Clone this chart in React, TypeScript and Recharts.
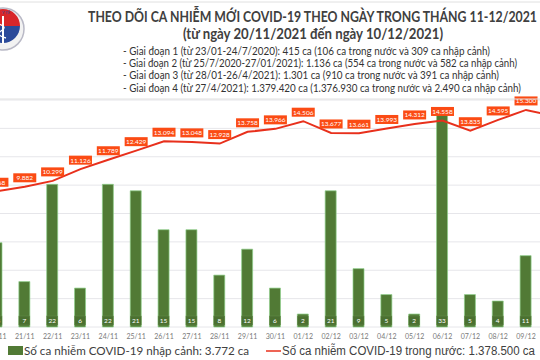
import { ComposedChart, Bar, Line, XAxis, YAxis, CartesianGrid, LabelList } from 'recharts';

const days = [
  '20/11', '21/11', '22/11', '23/11', '24/11', '25/11', '26/11', '27/11', '28/11', '29/11', '30/11',
  '01/12', '02/12', '03/12', '04/12', '05/12', '06/12', '07/12', '08/12', '09/12', '10/12',
];
const importedCases = [13, 7, 22, 6, 22, 21, 15, 15, 8, 12, 6, 2, 21, 9, 5, 2, 33, 5, 4, 11, 10];
const domesticCases = [
  9568, 9882, 10299, 11126, 11789, 12429, 13094, 13048, 12928, 13758, 13966,
  14506, 13677, 13661, 13993, 14312, 14558, 13835, 14595, 15300, 14856,
];
const lineTicks = [0, 2000, 4000, 6000, 8000, 10000, 12000, 14000, 16000];

const phases = [
  '- Giai đoạn 1 (từ 23/01-24/7/2020): 415 ca (106 ca trong nước và 309 ca nhập cảnh)',
  '- Giai đoạn 2 (từ 25/7/2020-27/01/2021): 1.136 ca (554 ca trong nước và 582 ca nhập cảnh)',
  '- Giai đoạn 3 (từ 28/01-26/4/2021): 1.301 ca (910 ca trong nước và 391 ca nhập cảnh)',
  '- Giai đoạn 4 (từ 27/4/2021): 1.379.420 ca (1.376.930 ca trong nước và 2.490 ca nhập cảnh)',
];
const phaseEnds = [490, 517, 499, 521];

const data = days.map((d, i) => ({ day: d, imported: importedCases[i], domestic: domesticCases[i] }));

const fmt = (v: number) => String(v).replace(/\B(?=(\d{3})+(?!\d))/g, '.');

const GREEN = '#517a35';
const RED = '#e8301c';
const LABEL_BG = '#fb4b14';

const DomesticLabel = (props: any) => {
  const { x, y, value } = props;
  return (
    <g>
      <rect x={x - 11.5} y={y - 13.5} width={23} height={9} fill={LABEL_BG} />
      <text x={x} y={y - 6.5} textAnchor="middle" fontSize={6.5} fill="#fff" fontFamily="Lato, sans-serif">
        {fmt(value)}
      </text>
    </g>
  );
};

const ImportedLabel = (props: any) => {
  const { x, y, width, height, value } = props;
  const cx = x + width / 2;
  const bottom = y + height;
  return (
    <g>
      <rect x={cx - 5.5} y={bottom - 11} width={11} height={9} fill="#4a7030" stroke="#6a9150" strokeWidth={0.4} />
      <text x={cx} y={bottom - 4.3} textAnchor="middle" fontSize={6.5} fill="#fff" fontFamily="Lato, sans-serif">
        {value}
      </text>
    </g>
  );
};

const DayTick = (props: any) => {
  const { x, y, payload } = props;
  return (
    <text x={x} y={y + 11.5} textAnchor="middle" fontSize={7} fill="#7a7a7a" fontFamily="Lato, sans-serif">
      {payload.value}
    </text>
  );
};

export default function App() {
  return (
    <div
      style={{
        position: 'fixed', left: 0, top: 0, width: 540, height: 360,
        overflow: 'hidden', background: '#fff',
      }}
    >
      <div style={{ position: 'absolute', left: -16.7, top: 0 }}>
        <ComposedChart
          width={600}
          height={360}
          data={data}
          margin={{ top: 100, right: 15.2, left: 0, bottom: 13 }}
          barCategoryGap={0}
        >
          <CartesianGrid vertical={false} stroke="#e6e6ea" />
          <XAxis dataKey="day" height={20} tickLine={false} axisLine={false} tickSize={0} tickMargin={0} tick={<DayTick />} interval={0} />
          <YAxis hide domain={[0, 16000]} ticks={lineTicks} />
          <YAxis hide yAxisId="b" domain={[0, 35]} />
          <Bar
            yAxisId="b"
            dataKey="imported"
            fill={GREEN}
            stroke="#8ed08a"
            strokeWidth={0.7}
            barSize={11}
            isAnimationActive={false}
          >
            <LabelList dataKey="imported" content={<ImportedLabel />} />
          </Bar>
          <Line
            type="linear"
            dataKey="domestic"
            stroke={RED}
            strokeWidth={2}
            dot={false}
            activeDot={false}
            isAnimationActive={false}
          >
            <LabelList dataKey="domestic" content={<DomesticLabel />} />
          </Line>
        </ComposedChart>
      </div>
      <svg
        width={540}
        height={360}
        style={{ position: 'absolute', left: 0, top: 0, pointerEvents: 'none' }}
      >
        <rect x={-6} y={2} width={551} height={97} fill="none" stroke="#e0e0e0" strokeWidth={1} rx={3} />
        {/* logo */}
        <g>
          <circle cx={3} cy={29} r={21} fill="#f2f2f2" stroke="#b9b9c6" strokeWidth={1.5} />
          <path d="M -14 26 A 17 17 0 0 1 20 26 Z" fill="#d8262a" />
          <path d="M -14 26 A 17 17 0 0 0 20 26 Z" fill="#2b4a9a" />
          <rect x={2} y={16} width={2} height={28} fill="#fff" />
          <path d="M -1 24 Q 8 27 1 31 Q -5 35 6 38" fill="none" stroke="#fff" strokeWidth={1.3} />
          <text x={6} y={14} fontSize={4} textAnchor="middle" fill="#2b4a9a" fontFamily="Lato, sans-serif">Y TẾ</text>
        </g>
        <text
          x={88}
          y={22}
          fontSize={14.5}
          fontWeight={700}
          fill="#404040"
          fontFamily="Lato, sans-serif"
          textLength={449}
          lengthAdjust="spacingAndGlyphs"
        >
          THEO DÕI CA NHIỄM MỚI COVID-19 THEO NGÀY TRONG THÁNG 11-12/2021
        </text>
        <text
          x={183}
          y={39}
          fontSize={14.5}
          fontWeight={700}
          fill="#404040"
          fontFamily="Lato, sans-serif"
          textLength={260}
          lengthAdjust="spacingAndGlyphs"
        >
          (từ ngày 20/11/2021 đến ngày 10/12/2021)
        </text>
        {phases.map((p, i) => (
          <text
            key={i}
            x={123}
            y={54.5 + i * 12.4}
            fontSize={10.5}
            fill="#333"
            fontFamily="Lato, sans-serif"
            textLength={phaseEnds[i] - 123}
            lengthAdjust="spacingAndGlyphs"
          >
            {p}
          </text>
        ))}
        {/* legend */}
        <rect x={8} y={346} width={15} height={9} fill={GREEN} />
        <text
          x={24}
          y={355}
          fontSize={12}
          fill="#404040"
          fontFamily="Lato, sans-serif"
          textLength={225}
          lengthAdjust="spacingAndGlyphs"
        >
          Số ca nhiễm COVID-19 nhập cảnh: 3.772 ca
        </text>
        <line x1={266} y1={351} x2={281} y2={351} stroke={RED} strokeWidth={1.5} />
        <text
          x={282}
          y={355}
          fontSize={12}
          fill="#404040"
          fontFamily="'Liberation Sans', Arial, sans-serif"
          textLength={253}
          lengthAdjust="spacingAndGlyphs"
        >
          Số ca nhiễm COVID-19 trong nước: 1.378.500 ca
        </text>
      </svg>
    </div>
  );
}
